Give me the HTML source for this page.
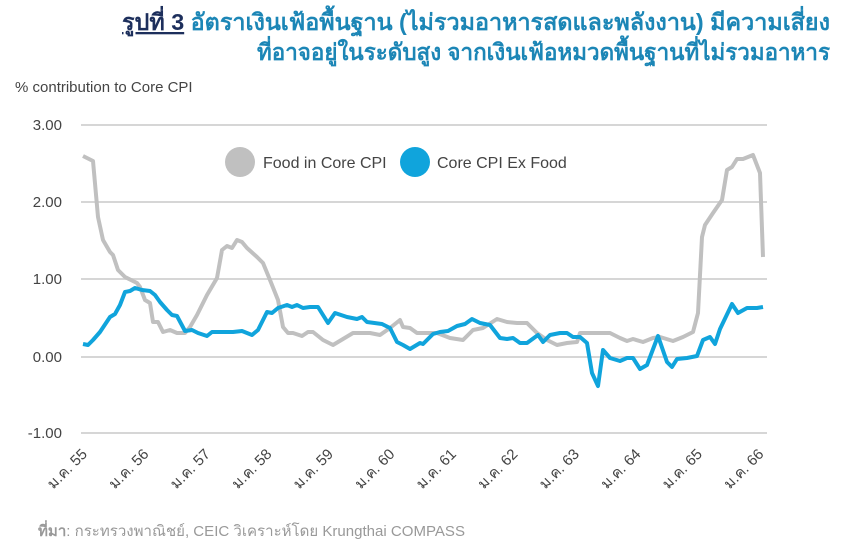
<!DOCTYPE html>
<html><head><meta charset="utf-8"><style>
html,body{margin:0;padding:0;background:#fff;width:844px;height:554px;overflow:hidden}
</style></head><body>
<svg width="844" height="554" viewBox="0 0 844 554" xmlns="http://www.w3.org/2000/svg" font-family="Liberation Sans, 'Noto Sans CJK SC', sans-serif">
<text x="122" y="30" textLength="708" lengthAdjust="spacingAndGlyphs" font-size="23" font-weight="bold" fill="#1c86b6"><tspan fill="#1d2f5c" text-decoration="underline">รูปที่ 3</tspan> อัตราเงินเฟ้อพื้นฐาน (ไม่รวมอาหารสดและพลังงาน) มีความเสี่ยง</text>
<text x="257" y="60" textLength="573" lengthAdjust="spacingAndGlyphs" font-size="23" font-weight="bold" fill="#1c86b6">ที่อาจอยู่ในระดับสูง จากเงินเฟ้อหมวดพื้นฐานที่ไม่รวมอาหาร</text>
<text x="15" y="92" font-size="15" fill="#444">% contribution to Core CPI</text>
<g stroke="#d6d6d6" stroke-width="2">
<line x1="81" y1="125" x2="767" y2="125"/><line x1="81" y1="202" x2="767" y2="202"/><line x1="81" y1="279" x2="767" y2="279"/><line x1="81" y1="357" x2="767" y2="357"/><line x1="81" y1="433" x2="767" y2="433"/>
</g>
<g font-size="15" fill="#444" text-anchor="end">
<text x="62" y="130">3.00</text><text x="62" y="207">2.00</text><text x="62" y="284">1.00</text><text x="62" y="362">0.00</text><text x="62" y="438">-1.00</text>
</g>
<polyline fill="none" stroke="#c0c0c0" stroke-width="4" stroke-linejoin="round" points="83,156 93,161 98,217 103,240 110,252 113,255 118,270 125,277 137,283 140,287 145,300 150,303 153,322 158,322 163,332 170,330 177,333 185,333 190,327 197,315 202,305 207,295 217,278 222,250 227,246 232,248 237,240 242,242 247,248 257,257 263,263 270,280 278,300 283,327 288,333 293,333 302,336 308,332 313,332 323,340 333,345 343,339 353,333 370,333 380,335 390,328 400,320 403,327 410,328 417,333 437,333 450,338 463,340 473,330 483,328 497,319 507,322 517,323 527,323 537,333 547,340 557,345 567,343 577,342 580,333 610,333 620,338 627,341 633,339 643,342 653,338 660,337 673,341 683,337 693,332 698,313 702,237 705,225 713,213 722,200 727,170 732,167 737,159 743,159 753,155 760,173 763,257"/>
<polyline fill="none" stroke="#10a4dc" stroke-width="4" stroke-linejoin="round" points="83,344 88,345 93,340 100,332 110,317 115,314 120,305 125,292 130,291 135,288 142,290 150,291 155,295 160,302 167,310 172,315 177,316 185,331 192,330 198,333 207,336 212,332 233,332 242,331 252,335 258,330 267,312 272,313 278,308 287,305 292,307 297,305 303,308 310,307 318,307 328,323 335,313 347,317 357,319 362,317 367,322 382,324 390,328 397,342 403,345 410,349 420,343 423,344 433,334 440,332 448,331 457,326 465,324 472,319 480,323 490,325 500,338 507,339 513,338 520,343 527,343 538,335 543,342 550,335 560,333 567,333 573,337 580,337 587,343 592,373 598,386 603,350 610,358 620,361 627,358 633,358 640,369 647,365 658,336 667,362 672,367 677,359 687,358 692,357 697,356 703,340 710,337 715,344 720,329 732,304 738,313 747,308 757,308 763,307"/>
<circle cx="240" cy="162" r="15" fill="#c0c0c0"/>
<text x="263" y="168" font-size="16" fill="#444">Food in Core CPI</text>
<circle cx="415" cy="162" r="15" fill="#10a4dc"/>
<text x="437" y="168" font-size="16" fill="#444">Core CPI Ex Food</text>
<g font-size="15" fill="#444" text-anchor="end">
<text transform="translate(88,455) rotate(-45)">ม.ค. 55</text>
<text transform="translate(149.5,455) rotate(-45)">ม.ค. 56</text>
<text transform="translate(211,455) rotate(-45)">ม.ค. 57</text>
<text transform="translate(272.5,455) rotate(-45)">ม.ค. 58</text>
<text transform="translate(334,455) rotate(-45)">ม.ค. 59</text>
<text transform="translate(395.5,455) rotate(-45)">ม.ค. 60</text>
<text transform="translate(457,455) rotate(-45)">ม.ค. 61</text>
<text transform="translate(518.5,455) rotate(-45)">ม.ค. 62</text>
<text transform="translate(580,455) rotate(-45)">ม.ค. 63</text>
<text transform="translate(641.5,455) rotate(-45)">ม.ค. 64</text>
<text transform="translate(703,455) rotate(-45)">ม.ค. 65</text>
<text transform="translate(764.5,455) rotate(-45)">ม.ค. 66</text>
</g>
<text x="38" y="536" textLength="427" lengthAdjust="spacingAndGlyphs" font-size="15" fill="#999"><tspan font-weight="bold">ที่มา</tspan>: กระทรวงพาณิชย์, CEIC วิเคราะห์โดย Krungthai COMPASS</text>
</svg>
</body></html>
